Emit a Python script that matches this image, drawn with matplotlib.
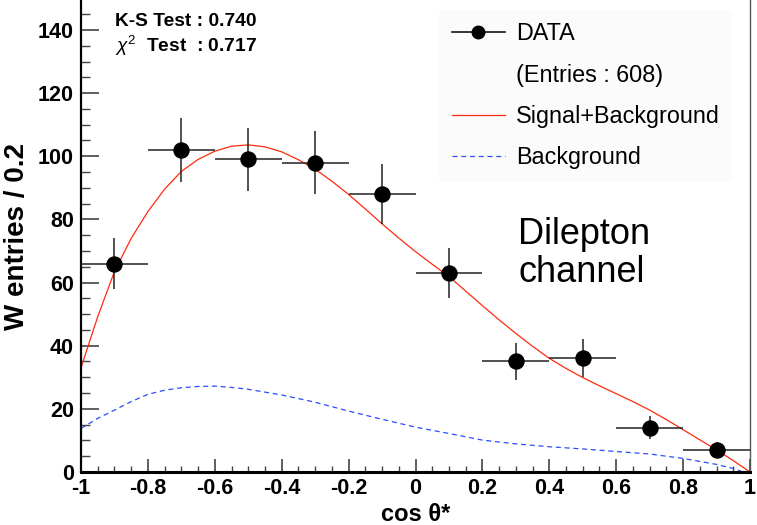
import matplotlib
matplotlib.use("Agg")
import matplotlib.pyplot as plt
from matplotlib.lines import Line2D
from matplotlib.ticker import MultipleLocator

plt.rcParams['font.family'] = ['Liberation Sans', 'DejaVu Sans']
plt.rcParams['mathtext.fontset'] = 'custom'
plt.rcParams['mathtext.rm'] = 'Liberation Sans'
plt.rcParams['mathtext.it'] = 'Liberation Sans:italic'
plt.rcParams['mathtext.bf'] = 'Liberation Sans:bold'

# measured W entries per bin (bin width 0.2)
bin_centers = [-0.9, -0.7, -0.5, -0.3, -0.1, 0.1, 0.3, 0.5, 0.7, 0.9]
entries = [66, 102, 99, 98, 88, 63, 35, 36, 14, 7]
errors = [8.1, 10.1, 9.9, 9.9, 9.4, 7.9, 5.9, 6.0, 3.7, 2.6]
half_width = [0.1] * 10

# fitted curves
sb_x = [-1.0, -0.95, -0.9, -0.85, -0.8, -0.75, -0.7, -0.65, -0.6, -0.55,
        -0.5, -0.45, -0.4, -0.35, -0.3, -0.25, -0.2, -0.15, -0.1, -0.05,
        0.0, 0.05, 0.1, 0.15, 0.2, 0.25, 0.3, 0.35, 0.4, 0.45,
        0.5, 0.55, 0.6, 0.65, 0.7, 0.75, 0.8, 0.85, 0.9, 0.95, 1.0]
sb_y = [33.0, 49.2, 63.5, 74.0, 82.5, 89.6, 95.2, 99.0, 101.6, 103.2,
        103.6, 103.0, 101.4, 98.9, 95.9, 92.1, 87.9, 83.3, 78.6, 74.1,
        69.8, 65.8, 61.9, 57.3, 52.7, 48.2, 43.9, 39.8, 36.0, 32.8,
        29.9, 27.3, 24.8, 22.3, 19.6, 16.6, 13.4, 10.2, 7.0, 3.6, 0.0]

bg_x = [-1.0, -0.95, -0.9, -0.85, -0.8, -0.75, -0.7, -0.65, -0.6, -0.55,
        -0.5, -0.4, -0.3, -0.2, -0.1, 0.0, 0.1, 0.2, 0.3, 0.4,
        0.5, 0.6, 0.7, 0.8, 0.9, 0.95, 0.98]
bg_y = [13.8, 17.0, 19.6, 22.3, 24.6, 25.9, 26.7, 27.1, 27.2, 26.8,
        26.2, 24.4, 22.1, 19.3, 16.7, 14.2, 12.2, 10.1, 8.9, 8.0,
        7.3, 6.5, 5.7, 4.3, 2.4, 1.1, 0.0]

fig = plt.figure(figsize=(7.57, 5.25), dpi=100)
ax = fig.add_axes([81 / 757, 53 / 525, 669 / 757, 472 / 525])

ax.plot(sb_x, sb_y, color='#ff2a10', lw=0.9, zorder=2)
ax.plot(bg_x, bg_y, color='#2a4dff', lw=0.9, ls=(0, (4, 3)), zorder=2)
ax.errorbar(bin_centers, entries, yerr=errors, xerr=half_width, fmt='o',
            color='black', ecolor='#222222', elinewidth=1.1, capsize=0,
            markersize=10.8, zorder=3)

ax.set_xlim(-1, 1)
ax.set_ylim(0, 149.5)
ax.xaxis.set_major_locator(MultipleLocator(0.2))
ax.xaxis.set_minor_locator(MultipleLocator(0.05))
ax.yaxis.set_major_locator(MultipleLocator(20))
ax.yaxis.set_minor_locator(MultipleLocator(5))
ax.xaxis.set_major_formatter(plt.FuncFormatter(lambda v, _: f'{round(v, 2) + 0:g}'))
ax.tick_params(axis='x', which='major', direction='in', length=9.5, width=1.2,
               color='#444444', pad=4, labelsize=15.5)
ax.tick_params(axis='x', which='minor', direction='in', length=4.5, width=1.0,
               color='#444444')
ax.tick_params(axis='y', which='major', direction='in', length=13, width=1.2,
               color='#444444', pad=5, labelsize=15.5)
ax.tick_params(axis='y', which='minor', direction='in', length=6.5, width=1.0,
               color='#444444')
for lab in ax.get_xticklabels() + ax.get_yticklabels():
    lab.set_fontweight('bold')

ax.spines['top'].set_visible(False)
ax.spines['left'].set_linewidth(1.6)
ax.spines['bottom'].set_linewidth(2.2)
ax.spines['right'].set_linewidth(1.0)
ax.spines['right'].set_color('#555555')

ax.set_ylabel('W entries / 0.2', fontsize=20, fontweight='bold', labelpad=6)
ax.set_xlabel('cos θ*', fontsize=17, fontweight='bold', labelpad=3)

fig.text(115 / 757, 1 - 26 / 525, 'K-S Test : 0.740', fontsize=13.8,
         fontweight='bold', va='baseline')
fig.text(115 / 757, 1 - 52 / 525, r'$\chi^{2}$  Test  : 0.717', fontsize=13.8,
         fontweight='bold', va='baseline')

handles = [
    Line2D([], [], color='black', marker='o', markersize=9, lw=1.1),
    Line2D([], [], color='none'),
    Line2D([], [], color='#ff2a10', lw=0.9),
    Line2D([], [], color='#2a4dff', lw=0.9, ls=(0, (4, 3))),
]
labels = ['DATA', '(Entries : 608)', 'Signal+Background', 'Background']
leg = fig.legend(handles, labels, loc='upper left',
                 bbox_to_anchor=(427 / 757, 1 + 2 / 525), fontsize=16.8,
                 frameon=True, facecolor='#fbfbfb', edgecolor='none',
                 framealpha=1, fancybox=False, handlelength=2.3,
                 handletextpad=0.45, labelspacing=0.78, borderpad=0.55)

fig.text(518 / 757, 1 - 282 / 525, 'Dilepton\nchannel', fontsize=26,
         va='baseline', linespacing=1.12)

fig.savefig('out.png', dpi=100)
